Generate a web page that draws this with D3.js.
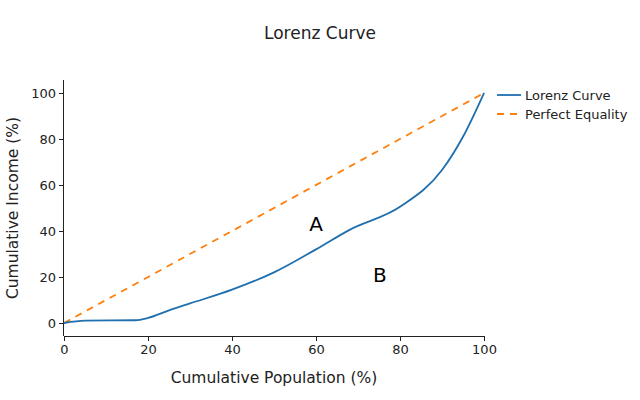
<!DOCTYPE html>
<html><head><meta charset="utf-8">
<script src="https://cdn.jsdelivr.net/npm/d3@7"></script>
<style>body{margin:0;background:#fff}svg{display:block}text{font-family:Verdana,"DejaVu Sans",sans-serif}</style>
</head><body><svg id="c" width="640" height="400"></svg>
<script>
const popPct = [0, 5, 17, 20, 25, 30, 40, 50, 60, 68, 80, 90, 95, 100];
const incomePct = [0, 1, 1.2, 2.2, 5.5, 8.5, 14.5, 22, 32, 40.5, 50.5, 66.5, 81, 100];
const equalityX = [0, 100];
const equalityY = [0, 100];
const xTicks = [0, 20, 40, 60, 80, 100];
const yTicks = [0, 20, 40, 60, 80, 100];
const seriesNames = ["Lorenz Curve", "Perfect Equality"];
const annotations = [{t: "A", x: 60, y: 43}, {t: "B", x: 75.2, y: 21}];

const svg = d3.select("#c");
const x = d3.scaleLinear().domain([0, 100]).range([64, 484]);
const y = d3.scaleLinear().domain([-5.65, 105.65]).range([336, 80]);
const blue = "#1f6fae", orange = "#ff7f0e", ink = "#222";

svg.append("text").attr("x", 320).attr("y", 39).attr("text-anchor", "middle")
  .attr("font-size", 17).attr("fill", ink).text("Lorenz Curve");

const gx = svg.append("g").attr("transform", "translate(0,336)")
  .call(d3.axisBottom(x).tickValues(xTicks).tickSize(5).tickPadding(4));
const gy = svg.append("g").attr("transform", "translate(64,0)")
  .call(d3.axisLeft(y).tickValues(yTicks).tickSize(5).tickPadding(3));
[gx, gy].forEach(g => {
  g.selectAll("path.domain").attr("stroke", ink).attr("stroke-width", 1);
  g.selectAll(".tick line").attr("stroke", ink);
  g.selectAll(".tick text").attr("font-size", 13).attr("fill", ink)
   .style("font-family", 'Verdana,"DejaVu Sans",sans-serif');
});
gx.select("path.domain").attr("d", "M64,0.5H484");
gy.select("path.domain").attr("d", "M-0.5,336V80");

svg.append("text").attr("x", 274).attr("y", 383).attr("text-anchor", "middle")
  .attr("font-size", 15.5).attr("fill", ink).text("Cumulative Population (%)");
svg.append("text").attr("transform", "translate(18,208) rotate(-90)").attr("text-anchor", "middle")
  .attr("font-size", 15.5).attr("fill", ink).text("Cumulative Income (%)");

const eq = equalityX.map((v, i) => [v, equalityY[i]]);
svg.append("path").datum(eq).attr("fill", "none").attr("stroke", orange).attr("stroke-width", 1.8)
  .attr("stroke-dasharray", "7,6")
  .attr("d", d3.line().x(d => x(d[0])).y(d => y(d[1])));

const lz = popPct.map((v, i) => [v, incomePct[i]]);
svg.append("path").datum(lz).attr("fill", "none").attr("stroke", blue).attr("stroke-width", 1.8)
  .attr("d", d3.line().curve(d3.curveMonotoneX).x(d => x(d[0])).y(d => y(d[1])));

annotations.forEach(a => {
  svg.append("text").attr("x", x(a.x)).attr("y", y(a.y)).attr("text-anchor", "middle")
    .attr("dominant-baseline", "central").attr("font-size", 20).attr("fill", "#000").text(a.t);
});

const lg = svg.append("g").attr("transform", "translate(497,95)");
seriesNames.forEach((n, i) => {
  const row = lg.append("g").attr("transform", `translate(0,${i * 19})`);
  row.append("line").attr("x1", 0).attr("x2", 24).attr("y1", 0).attr("y2", 0)
    .attr("stroke", i ? orange : blue).attr("stroke-width", 1.8)
    .attr("stroke-dasharray", i ? "7,6" : null);
  row.append("text").attr("x", 28).attr("y", 0).attr("dominant-baseline", "central")
    .attr("font-size", 13).attr("fill", ink).text(n);
});
</script></body></html>
